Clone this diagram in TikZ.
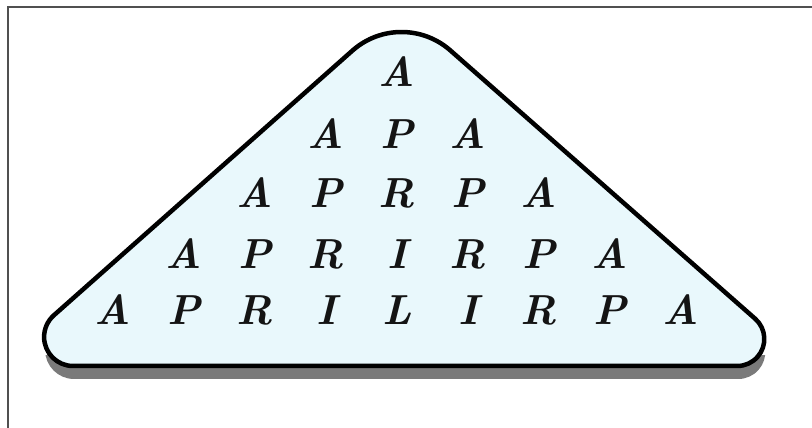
\documentclass[tikz,border=0pt]{standalone}
\usepackage{tikz}
\usetikzlibrary{calc}
\definecolor{fillblue}{HTML}{E9F8FC}
\definecolor{shadowgray}{HTML}{7A7A7A}
\definecolor{framegray}{HTML}{505050}
\tikzset{
  letter/.style={inner sep=0pt, text height=0.68em, text depth=0pt, anchor=center,
    font=\fontsize{42}{50}\selectfont\bfseries\itshape, text=black!92},
  outline/.style={line width=4.5pt, draw=black, fill=fillblue, line join=round},
  pyramid/.pic={
    \path[pic actions]
      (400,62) -- (73.1,62)
      arc[start angle=270, end angle=131.5, radius=29]
      -- ($(401.5,322)+(131.5:74)$)
      arc[start angle=131.5, end angle=48.7, radius=74]
      -- ($(737.3,89)+(48.7:27)$)
      arc[start angle=48.7, end angle=-90, radius=27]
      -- cycle;
  },
}
\begin{document}
\begin{tikzpicture}[x=1pt,y=1pt]
\useasboundingbox (0,0) rectangle (812,428);
\fill[white] (0,0) rectangle (812,428);
% frame
\coordinate (f1) at (8,0);
\coordinate (f2) at (8,421);
\coordinate (f3) at (812,421);
\draw[line width=2pt, framegray] (f1) -- (f2) -- (f3);
% shadow
\begin{scope}
  \clip (40,30) rectangle (780,72);
  \pic[fill=shadowgray] at (1,-13) {pyramid};
\end{scope}
% triangle
\pic[outline] at (0,0) {pyramid};
% letters
\foreach \row/\y/\word in {1/345/{A}, 2/283/{A,P,A}, 3/224/{A,P,R,P,A}, 4/163/{A,P,R,I,R,P,A}, 5/107/{A,P,R,I,L,I,R,P,A}} {
  \foreach \ch [count=\c] in \word {
    \pgfmathsetmacro{\xx}{397 + 71*(\c - \row)}
    \node[letter] (r\row c\c) at (\xx,\y) {\ch};
  }
}
\end{tikzpicture}
\end{document}
